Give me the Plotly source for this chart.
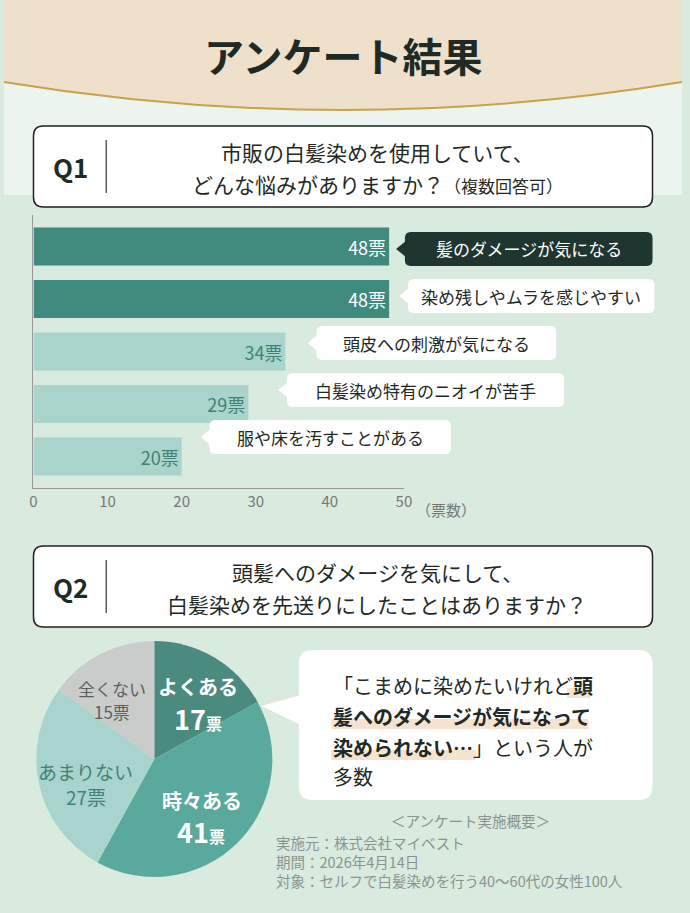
import plotly.graph_objects as go

W, H = 690, 913
def px(x): return x / W
def py(y): return 1 - y / H

# ---- data ----
q1_items = ["髪のダメージが気になる", "染め残しやムラを感じやすい", "頭皮への刺激が気になる",
            "白髪染め特有のニオイが苦手", "服や床を汚すことがある"]
q1_votes = [48, 48, 34, 29, 20]
q2_labels = ["よくある", "時々ある", "あまりない", "全くない"]
q2_votes = [17, 41, 27, 15]
x_ticks = [0, 10, 20, 30, 40, 50]

FONT = "Noto Sans CJK JP"
DARK = "#3f8a7c"
LIGHT = "#a9d4cc"
bar_colors = [DARK, DARK, LIGHT, LIGHT, LIGHT]
lbl_colors = ["white", "white", "#3f8277", "#3f8277", "#3f8277"]

fig = go.Figure()

ycat = list(range(len(q1_items)))
fig.add_trace(go.Bar(
    x=q1_votes, y=ycat, orientation="h", marker=dict(color=bar_colors, line=dict(width=0)),
    width=0.72, text=[f"{v}票" for v in q1_votes], textposition="inside", insidetextanchor="end",
    textfont=dict(family=FONT, size=18, color=lbl_colors), hoverinfo="skip",
    xaxis="x", yaxis="y", showlegend=False))

pie_colors = ["#4b8a7e", "#5aa99d", "#a8d4cd", "#c9cccb"]
fig.add_trace(go.Pie(
    values=q2_votes, labels=q2_labels, sort=False, direction="clockwise", rotation=0,
    marker=dict(colors=pie_colors, line=dict(width=0)), textinfo="none", hoverinfo="skip",
    domain=dict(x=[px(28), px(278)], y=[py(877), py(641)]), showlegend=False))

fig.update_layout(
    width=W, height=H, margin=dict(l=0, r=0, t=0, b=0),
    paper_bgcolor="#d9eadf", plot_bgcolor="rgba(0,0,0,0)",
    xaxis=dict(domain=[px(30), px(407)], range=[0, 50], tickvals=x_ticks,
               ticktext=[str(t) for t in x_ticks], showgrid=False, zeroline=False,
               showline=True, linecolor="#999", linewidth=1, ticks="",
               tickfont=dict(family=FONT, size=15, color="#777"), anchor="y"),
    yaxis=dict(domain=[py(488), py(215)], range=[4.6, -0.6], showticklabels=False,
               showgrid=False, zeroline=False, showline=True, linecolor="#999", linewidth=1),
    bargap=0.2,
)

shapes = []
ann = []

def P(x, y): return f"{px(x):.5f},{py(y):.5f}"

def rrect(x0, y0, x1, y1, r, fill, line="rgba(0,0,0,0)", lw=0, layer="below"):
    path = (f"M{P(x0+r,y0)} L{P(x1-r,y0)} Q{P(x1,y0)} {P(x1,y0+r)} L{P(x1,y1-r)} "
            f"Q{P(x1,y1)} {P(x1-r,y1)} L{P(x0+r,y1)} Q{P(x0,y1)} {P(x0,y1-r)} "
            f"L{P(x0,y0+r)} Q{P(x0,y0)} {P(x0+r,y0)} Z")
    shapes.append(dict(type="path", xref="paper", yref="paper", path=path, fillcolor=fill,
                       line=dict(color=line, width=lw), layer=layer))

def text(x, y, s, size, color, bold=False, anchor="center", font=FONT):
    ann.append(dict(x=px(x), y=py(y), xref="paper", yref="paper", text=f"<b>{s}</b>" if bold else s,
                    showarrow=False, xanchor=anchor, yanchor="middle",
                    font=dict(family=font, size=size, color=color)))

shapes.append(dict(type="rect", xref="paper", yref="paper", x0=0, x1=1, y0=py(195), y1=1,
                   fillcolor="#ecf4ef", line=dict(width=0), layer="below"))
hdr = f"M{P(0,0)} L{P(690,0)} L{P(690,82)} Q{P(345,138)} {P(0,82)} Z"
shapes.append(dict(type="path", xref="paper", yref="paper", path=hdr, fillcolor="#efe0cc",
                   line=dict(width=0), layer="below"))
shapes.append(dict(type="path", xref="paper", yref="paper",
                   path=f"M{P(690,82)} Q{P(345,138)} {P(0,82)}",
                   line=dict(color="#c9a24a", width=2), layer="below"))
text(345, 55, "アンケート結果", 40, "#1f2a25", bold=True)

for (y0, y1, q, l1, l2) in [(126, 207, "Q1", "市販の白髪染めを使用していて、",
                              "どんな悩みがありますか？<span style='font-size:17px'>（複数回答可）</span>"),
                             (546, 627, "Q2", "頭髪へのダメージを気にして、",
                              "白髪染めを先送りにしたことはありますか？")]:
    rrect(30, y0, 660, y1, 10, "white", "#222", 1.5)
    shapes.append(dict(type="line", xref="paper", yref="paper", x0=px(104), x1=px(104),
                       y0=py(y0+14), y1=py(y1-14), line=dict(color="#333", width=1.2)))
    text(68, (y0+y1)/2, q, 26, "#1f2a25", bold=True)
    text(380, y0+26, l1, 21, "#1f2a25")
    text(380, y0+58, l2, 21, "#1f2a25")

boxes = [(402, 660), (405, 662), (312, 562), (282, 570), (203, 455)]
centers = [249, 296, 343, 390, 437]
for i, ((x0, x1), yc) in enumerate(zip(boxes, centers)):
    fill = "#1f3530" if i == 0 else "white"
    col = "white" if i == 0 else "#1f2a25"
    rrect(x0+6, yc-17, x1, yc+17, 6, fill, layer="above")
    shapes.append(dict(type="path", xref="paper", yref="paper",
                       path=f"M{P(x0+7,yc-8)} L{P(x0-3,yc)} L{P(x0+7,yc+8)} Z",
                       fillcolor=fill, line=dict(width=0), layer="above"))
    text((x0+6+x1)/2, yc, q1_items[i], 17, col)
text(450, 509, "（票数）", 15, "#777")

rrect(300, 650, 660, 800, 14, "white")
shapes.append(dict(type="path", xref="paper", yref="paper",
                   path=f"M{P(302,695)} L{P(262,706)} L{P(302,725)} Z",
                   fillcolor="white", line=dict(width=0), layer="below"))
for (hx0, hx1, hy) in [(573, 597, 692), (333, 595, 723), (333, 480, 754)]:
    shapes.append(dict(type="rect", xref="paper", yref="paper", x0=px(hx0), x1=px(hx1),
                       y0=py(hy+6), y1=py(hy-4), fillcolor="#f6e3cf", line=dict(width=0), layer="below"))
text(333, 685, "「こまめに染めたいけれど<b>頭</b>", 20, "#1f2a25", anchor="left")
text(333, 716, "<b>髪へのダメージが気になって</b>", 20, "#1f2a25", anchor="left")
text(333, 747, "<b>染められない…</b>」という人が", 20, "#1f2a25", anchor="left")
text(333, 776, "多数", 20, "#1f2a25", anchor="left")

text(197, 686, "よくある", 20, "white", bold=True)
text(197, 718, "17<span style='font-size:16px'>票</span>", 27, "white", bold=True)
text(202, 800, "時々ある", 20, "white", bold=True)
text(200, 831, "41<span style='font-size:16px'>票</span>", 27, "white", bold=True)
text(83, 771, "あまりない", 19, "#3f8277")
text(83, 796, "27票", 19, "#3f8277")
text(110, 688, "全くない", 17, "#5d605f")
text(110, 711, "15票", 17, "#5d605f")

text(475, 820, "＜アンケート実施概要＞", 14.5, "#8a948f")
text(275, 842, "実施元：株式会社マイベスト", 14.5, "#8a948f", anchor="left")
text(275, 861, "期間：2026年4月14日", 14.5, "#8a948f", anchor="left")
text(275, 880, "対象：セルフで白髪染めを行う40〜60代の女性100人", 14.5, "#8a948f", anchor="left")

fig.update_layout(shapes=shapes, annotations=ann)
fig.write_html("out.html", config={"displayModeBar": False, "staticPlot": True})

with open("out.html", encoding="utf-8") as f:
    html = f.read()
html = html.replace("<body>", "<body style=\"margin:0;padding:0;overflow:hidden\">", 1)
with open("out.html", "w", encoding="utf-8") as f:
    f.write(html)
